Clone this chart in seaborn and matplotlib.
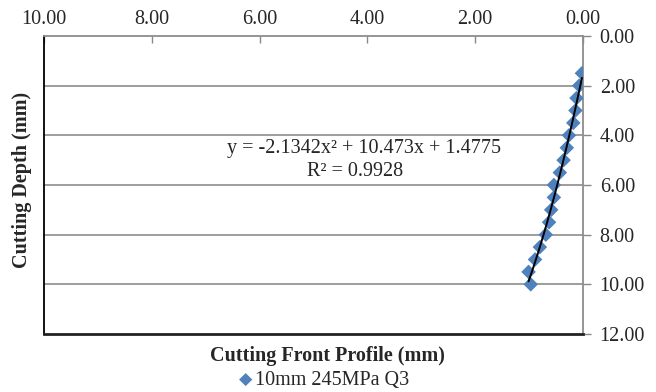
import numpy as np
import pandas as pd
import matplotlib
matplotlib.use("Agg")
import matplotlib.pyplot as plt
import seaborn as sns

# Data
profile_mm = [0.02, 0.07, 0.12, 0.14, 0.18, 0.26, 0.30, 0.36, 0.43, 0.54,
              0.54, 0.59, 0.63, 0.69, 0.80, 0.89, 1.01, 0.97]
depth_mm = [1.5, 2.0, 2.5, 3.0, 3.5, 4.0, 4.5, 5.0, 5.5, 6.0,
            6.5, 7.0, 7.5, 8.0, 8.5, 9.0, 9.5, 10.0]
series_name = "10mm 245MPa Q3"
coef = [-2.1342, 10.473, 1.4775]
r2 = 0.9928
x_ticks = [10, 8, 6, 4, 2, 0]
y_ticks = [0, 2, 4, 6, 8, 10, 12]

df = pd.DataFrame({"profile": profile_mm, "depth": depth_mm, "series": series_name})

sns.set_theme(style="white")
plt.rcParams['font.family'] = ['Liberation Serif', 'DejaVu Serif']

FS = 14.5
fig = plt.figure(figsize=(6.56, 3.92), dpi=100)
ax = fig.add_axes([44/656, 1-334/392, (583-44)/656, (334-36)/392])

blue = "#4F81BD"
sns.scatterplot(data=df, x="profile", y="depth", marker="D", s=55,
                color=blue, edgecolor="none", ax=ax, legend=False, zorder=3)

xs = np.linspace(min(profile_mm), max(profile_mm), 100)
ys = np.polyval(coef, xs)
ax.plot(xs, ys, color="black", lw=1.4, zorder=4)

ax.set_xlim(10, 0)
ax.set_ylim(12, 0)
ax.set_xticks(x_ticks)
ax.set_yticks(y_ticks)
ax.set_xticklabels([f"{v:.2f}" for v in x_ticks])
ax.set_yticklabels([f"{v:.2f}" for v in y_ticks])
ax.xaxis.tick_top()
ax.yaxis.tick_right()
ax.tick_params(axis="x", direction="in", length=5, width=1, color="#888888",
               labelsize=FS, pad=5, top=True, bottom=False)
ax.tick_params(axis="y", direction="out", length=6, width=1, color="#888888",
               labelsize=FS, pad=6, right=True, left=False)
for v in y_ticks[1:-1]:
    ax.axhline(v, color="#8c8c8c", lw=1.2, zorder=1)

for side in ["top", "right"]:
    ax.spines[side].set_color("#8c8c8c")
    ax.spines[side].set_linewidth(1.3)
ax.spines["left"].set_color("black")
ax.spines["left"].set_linewidth(1.3)
ax.spines["bottom"].set_color("#222222")
ax.spines["bottom"].set_linewidth(2.0)

ax.set_xlabel("")
ax.set_ylabel("")
fig.text(22/656, 1-180/392, "Cutting Depth (mm)", rotation=90, ha="center",
         va="center", fontsize=FS, fontweight="bold")
fig.text(327/656, 1-356/392, "Cutting Front Profile (mm)", ha="center",
         va="center", fontsize=FS, fontweight="bold")

fig.text(364/656, 1-149/392, f"y = {coef[0]}x\u00b2 + {coef[1]}x + {coef[2]}",
         ha="center", va="center", fontsize=FS)
fig.text(355/656, 1-171/392, f"R\u00b2 = {r2}", ha="center", va="center", fontsize=FS)

# legend
fig.text(246/656, 1-380/392, "\u25C6", color=blue, ha="center", va="center",
         fontsize=12.5, family=['DejaVu Sans'])
fig.text(255/656, 1-380/392, series_name, ha="left", va="center", fontsize=FS)

fig.savefig("out.png", dpi=100)
